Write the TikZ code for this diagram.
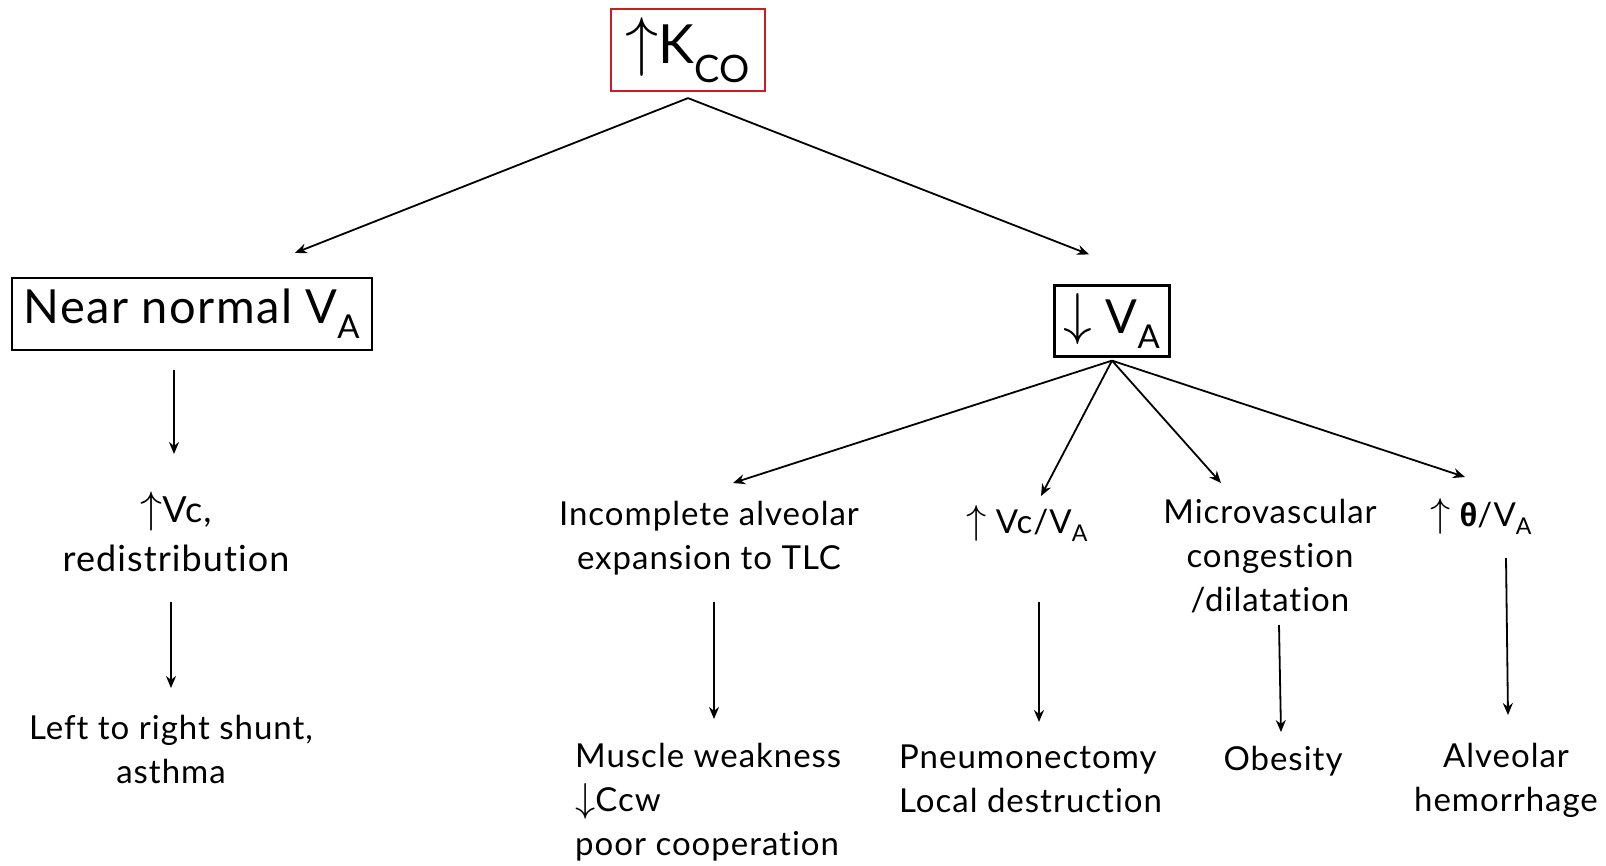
\documentclass[tikz,border=0pt]{standalone}
\usepackage{fontspec}
\usepackage{graphicx}
\setmainfont{Lato}[LetterSpace=3,Ligatures=NoCommon]
\newfontfamily\thetafont{Liberation Sans}
\newcommand\uparr{\resizebox{!}{0.85em}{$\uparrow$}}
\newcommand\downarr{\resizebox{!}{0.85em}{$\downarrow$}}
\usetikzlibrary{arrows.meta}
\definecolor{kred}{RGB}{200,30,35}
\begin{document}
\begin{tikzpicture}[x=1pt,y=-1pt,
  every node/.style={font=\fontsize{33}{44}\selectfont, align=center, inner sep=0pt},
  box/.style={draw, line width=2.2pt},
  big/.style={font=\fontsize{47}{60}\selectfont},
  arr/.style={-{Stealth[length=12pt,width=10pt]}, line width=1.8pt}]
\useasboundingbox (0,0) rectangle (1606,865);
\node[box, draw=kred, minimum width=154pt, minimum height=82pt, font=\fontsize{54}{60}\selectfont] (kco) at (688,50) {\uparr K\textsubscript{CO}};
\node[box, big, minimum width=360pt, minimum height=72pt] (near) at (192,314) {Near normal V\textsubscript{A}};
\node[box, big, minimum width=115pt, minimum height=71pt] (dva) at (1112,321) {\downarr\ V\textsubscript{A}};

\node[font=\fontsize{36}{49}\selectfont] (vc) at (176,532) {\uparr Vc,\\redistribution};
\node (shunt) at (171,749) {Left to right shunt,\\asthma};
\node (inc) at (709,538) {Incomplete alveolar\\expansion to TLC};
\node (vcva) at (1027,523) {\uparr\ Vc/V\textsubscript{A}};
\node (micro) at (1270,556) {Microvascular\\congestion\\/dilatation};
\node (theta) at (1481,516) {\uparr\ {\thetafont\bfseries θ}/V\textsubscript{A}};
\node[anchor=west, align=left] (musc) at (575,802) {Muscle weakness\\\downarr Ccw\\poor cooperation};
\node[anchor=west, align=left] (pneu) at (899,779) {Pneumonectomy\\Local destruction};
\node (obes) at (1283,761) {Obesity};
\node (alv) at (1506,780) {Alveolar\\hemorrhage};

\draw[arr] ([yshift=-6pt]kco.south) -- ([xshift=103pt,yshift=24pt]near.north);
\draw[arr] ([yshift=-6pt]kco.south) -- ([xshift=-23pt,yshift=30pt]dva.north);

\draw[arr] ([xshift=-18pt,yshift=-19pt]near.south) -- ([xshift=-2pt,yshift=78pt]vc.center);
\draw[arr] ([xshift=-5pt,yshift=-70pt]vc.center) -- ([yshift=61pt]shunt.center);

\draw[arr] ([yshift=-3pt]dva.south) -- ([xshift=24pt,yshift=55pt]inc.center);
\draw[arr] ([yshift=-3pt]dva.south) -- ([xshift=14pt,yshift=27pt]vcva.center);
\draw[arr] ([yshift=-3pt]dva.south) -- ([xshift=-49pt,yshift=73pt]micro.center);
\draw[arr] ([yshift=-3pt]dva.south) -- ([xshift=-16pt,yshift=39pt]theta.center);

\draw[arr] ([xshift=5pt,yshift=-64pt]inc.center) -- ([xshift=139pt,yshift=83pt]musc.west);
\draw[arr] ([xshift=12pt,yshift=-79pt]vcva.center) -- ([xshift=140pt,yshift=57pt]pneu.west);
\draw[arr] ([xshift=9pt,yshift=-69pt]micro.center) -- ([xshift=-2pt,yshift=29pt]obes.center);
\draw[arr] ([xshift=25pt,yshift=-42pt]theta.center) -- ([xshift=2pt,yshift=65pt]alv.center);
\end{tikzpicture}
\end{document}
